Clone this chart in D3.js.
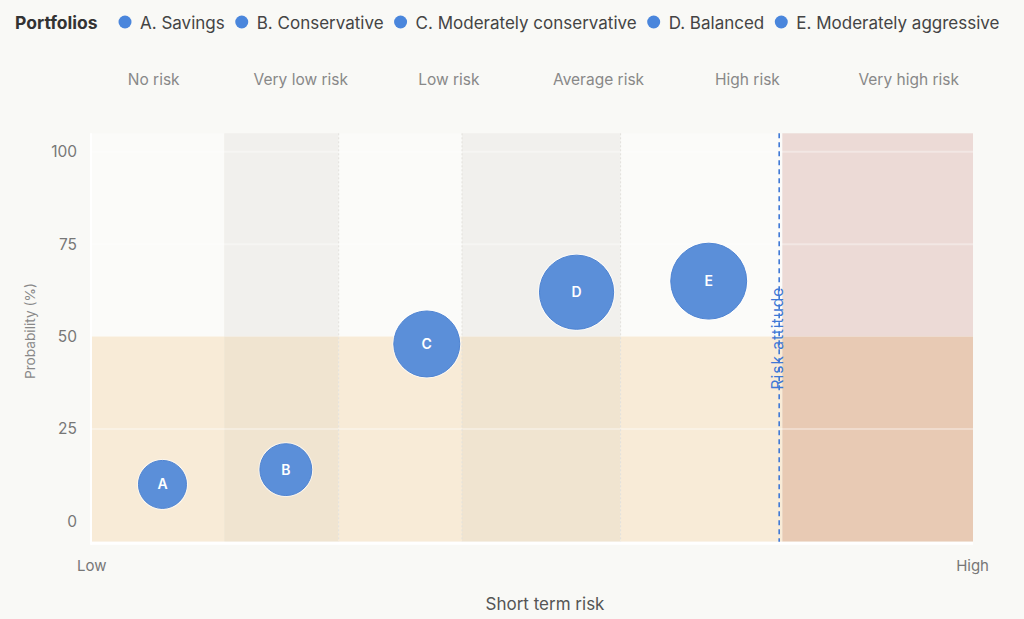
<!DOCTYPE html>
<html lang="en">
<head>
<meta charset="UTF-8">
<title>Portfolios by short term risk</title>
<script src="https://d3js.org/d3.v7.min.js"></script>
<style>
  body { margin: 0; background: #f9f9f6; }
  text { font-family: Inter, "Open Sans", sans-serif; }
</style>
</head>
<body>
<script>
// chart values
var portfolios = ["A. Savings", "B. Conservative", "C. Moderately conservative", "D. Balanced", "E. Moderately aggressive"];
var letters = ["A", "B", "C", "D", "E"];
var shortTermRisk = [8, 22, 38, 55, 70];
var probability = [10, 14, 48, 62, 65];
var bubbleSize = [36, 42, 68, 86, 90];

var riskBands = ["No risk", "Very low risk", "Low risk", "Average risk", "High risk", "Very high risk"];
var bandEdges = [0, 15, 28, 42, 60, 78, 100];
var bandLabelAt = [7, 23.7, 40.5, 57.5, 74.4, 92.7];
var yTicks = [0, 25, 50, 75, 100];
var riskAttitude = 78;
var probThreshold = 50;

var width = 1024, height = 619;
var blue = "#5b8fd9";

var svg = d3.select("body").append("svg")
    .attr("width", width)
    .attr("height", height);

var x = d3.scaleLinear().domain([0, 100]).range([92, 973]);
var y = d3.scaleLinear().domain([-5.5, 105]).range([541.7, 133.3]);
var r = d3.scaleSqrt().domain([0, 100]).range([0, 40]);

// background bands
var bands = riskBands.map(function(name, i) {
  return {name: name, i: i, x0: bandEdges[i], x1: bandEdges[i + 1]};
});
function upperFill(d) {
  if (d.i == 5) return "#ecdad6";
  return d.i % 2 ? "#f1f0ed" : "#fbfbf9";
}
function lowerFill(d) {
  if (d.i == 5) return "#e8cab4";
  return d.i % 2 ? "#f0e4d0" : "#f8ebd7";
}

var g = svg.append("g");
g.selectAll("rect.upper").data(bands).enter().append("rect")
    .attr("class", "upper")
    .attr("x", function(d) { return x(d.x0) + (d.i == 5 ? 3 : 0); })
    .attr("width", function(d) { return x(d.x1) - x(d.x0) - (d.i == 5 ? 3 : 0); })
    .attr("y", y(105))
    .attr("height", y(probThreshold) - y(105))
    .attr("fill", upperFill);
g.selectAll("rect.lower").data(bands).enter().append("rect")
    .attr("class", "lower")
    .attr("x", function(d) { return x(d.x0) + (d.i == 5 ? 3 : 0); })
    .attr("width", function(d) { return x(d.x1) - x(d.x0) - (d.i == 5 ? 3 : 0); })
    .attr("y", y(probThreshold))
    .attr("height", y(-5.5) - y(probThreshold))
    .attr("fill", lowerFill);
// gap left of the very high band
g.append("rect")
    .attr("x", x(riskAttitude)).attr("width", 3)
    .attr("y", y(105)).attr("height", y(probThreshold) - y(105))
    .attr("fill", "#fbfbf9");
g.append("rect")
    .attr("x", x(riskAttitude)).attr("width", 3)
    .attr("y", y(probThreshold)).attr("height", y(-5.5) - y(probThreshold))
    .attr("fill", "#f8ebd7");

// faint grid lines
g.selectAll("line.grid").data(yTicks.filter(function(t) { return t != probThreshold && t != 0; }))
  .enter().append("line")
    .attr("x1", x(0)).attr("x2", x(100))
    .attr("y1", function(d) { return y(d); })
    .attr("y2", function(d) { return y(d); })
    .attr("stroke", "#ffffff")
    .attr("stroke-opacity", 0.35)
    .attr("stroke-width", 2);

// dotted band separators
g.selectAll("line.sep").data([bandEdges[2], bandEdges[3], bandEdges[4]])
  .enter().append("line")
    .attr("x1", function(d) { return x(d); })
    .attr("x2", function(d) { return x(d); })
    .attr("y1", y(105)).attr("y2", y(-5.5))
    .attr("stroke", "#e2e0dc")
    .attr("stroke-dasharray", "2,2");

// plot frame (white edge)
g.append("line").attr("x1", x(0) - 1).attr("x2", x(100))
    .attr("y1", y(-5.5) + 1.5).attr("y2", y(-5.5) + 1.5)
    .attr("stroke", "#ffffff").attr("stroke-width", 3);
g.append("line").attr("x1", x(0) - 1).attr("x2", x(0) - 1)
    .attr("y1", y(105)).attr("y2", y(-5.5) + 3)
    .attr("stroke", "#ffffff").attr("stroke-width", 2);

// y axis
var yAxis = svg.append("g")
    .attr("transform", "translate(" + x(0) + ",0)")
    .call(d3.axisLeft(y).tickValues(yTicks).tickSize(0).tickPadding(15));
yAxis.select(".domain").remove();
yAxis.selectAll("text")
    .attr("fill", "#777")
    .style("font-size", "15.5px")
    .style("font-family", "Inter, 'Open Sans', sans-serif");

svg.append("text")
    .attr("transform", "translate(35," + y(51.5) + ") rotate(-90)")
    .attr("text-anchor", "middle")
    .attr("fill", "#888")
    .style("font-size", "13.7px")
    .text("Probability (%)");

// x axis labels
svg.append("text")
    .attr("x", x(0) - 15).attr("y", 571)
    .attr("fill", "#777").style("font-size", "15px")
    .text("Low");
svg.append("text")
    .attr("x", x(100) + 16).attr("y", 571)
    .attr("text-anchor", "end")
    .attr("fill", "#777").style("font-size", "15px")
    .text("High");
svg.append("text")
    .attr("x", 545).attr("y", 610)
    .attr("text-anchor", "middle")
    .attr("fill", "#555").style("font-size", "17px")
    .text("Short term risk");

// band headers
svg.selectAll("text.band").data(riskBands).enter().append("text")
    .attr("class", "band")
    .attr("x", function(d, i) { return x(bandLabelAt[i]); })
    .attr("y", 84.5)
    .attr("text-anchor", "middle")
    .attr("fill", "#888")
    .style("font-size", "15.5px")
    .text(function(d) { return d; });

// risk attitude line
svg.append("line")
    .attr("x1", x(riskAttitude)).attr("x2", x(riskAttitude))
    .attr("y1", y(105)).attr("y2", y(-5.5))
    .attr("stroke", "#3f78d6")
    .attr("stroke-width", 1.6)
    .attr("stroke-dasharray", "5,4");
svg.append("text")
    .attr("transform", "translate(" + (x(riskAttitude) + 4) + "," + y(49.6) + ") rotate(-90)")
    .attr("text-anchor", "middle")
    .attr("fill", "#3f78d6")
    .style("font-size", "15.5px")
    .style("letter-spacing", "1px")
    .text("Risk attitude");

// bubbles
var points = letters.map(function(l, i) {
  return {letter: l, x: shortTermRisk[i], y: probability[i], s: bubbleSize[i]};
});
var bubble = svg.selectAll("g.bubble").data(points).enter().append("g")
    .attr("class", "bubble")
    .attr("transform", function(d) { return "translate(" + x(d.x) + "," + y(d.y) + ")"; });
bubble.append("circle")
    .attr("r", function(d) { return r(d.s) + 1.5; })
    .attr("fill", "#ffffff")
    .attr("fill-opacity", 0.6);
bubble.append("circle")
    .attr("r", function(d) { return r(d.s); })
    .attr("fill", blue)
    .attr("stroke", "#4f84d2")
    .attr("stroke-width", 1);
bubble.append("text")
    .attr("text-anchor", "middle")
    .attr("dy", "0.35em")
    .attr("fill", "#ffffff")
    .style("font-size", "14px")
    .style("font-weight", "600")
    .text(function(d) { return d.letter; });

// legend
var legend = svg.append("g");
var title = legend.append("text")
    .attr("x", 15).attr("y", 28.5)
    .attr("fill", "#333")
    .style("font-size", "17.5px")
    .style("font-weight", "700")
    .text("Portfolios");
var lx = 125;
portfolios.forEach(function(p) {
  legend.append("circle")
      .attr("cx", lx).attr("cy", 22).attr("r", 6.5)
      .attr("fill", "#4a86dc");
  var t = legend.append("text")
      .attr("x", lx + 15).attr("y", 28.5)
      .attr("fill", "#444")
      .style("font-size", "17px")
      .text(p);
  lx = lx + 15 + t.node().getComputedTextLength() + 17;
});
</script>
</body>
</html>
